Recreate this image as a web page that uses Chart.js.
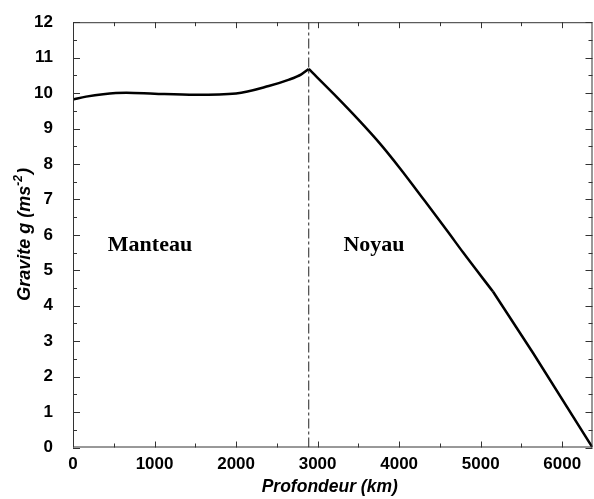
<!DOCTYPE html>
<html lang="fr">
<head>
  <meta charset="UTF-8" />
  <title>Gravité en fonction de la profondeur</title>
  <script src="https://cdn.jsdelivr.net/npm/chart.js"></script>
  <style>
    html, body { margin: 0; padding: 0; background: #fff; }
    #wrap { width: 594px; height: 499px; }
  </style>
</head>
<body>
  <div id="wrap"><canvas id="gravChart" width="594" height="499"></canvas></div>

  <script>
    // profondeur (km) et gravité (m/s²), par enveloppe
    const mantleDepth = [0, 160, 370, 655, 1000, 1500, 2000, 2400, 2650, 2800, 2891];
    const mantleG     = [9.82, 9.90, 9.97, 10.01, 9.98, 9.95, 9.99, 10.20, 10.38, 10.53, 10.68];
    const outerDepth  = [2891, 3200, 3500, 3770, 4009, 4313, 4600, 4785, 5150];
    const outerG      = [10.68, 9.97, 9.25, 8.56, 7.88, 6.96, 6.08, 5.50, 4.40];
    const innerDepth  = [5150, 5644, 6371];
    const innerG      = [4.40, 2.66, 0];

    const cmbDepth = 2891;      // limite manteau / noyau
    const xTicks = [0, 1000, 2000, 3000, 4000, 5000, 6000];
    const yTicks = [0, 1, 2, 3, 4, 5, 6, 7, 8, 9, 10, 11, 12];
    const regions = ['Manteau', 'Noyau'];

    const pts = (xs, ys) => xs.map((d, i) => ({ x: d, y: ys[i] }));

    // cadre, graduations internes, titres et étiquettes
    const decor = {
      id: 'decor',
      afterDraw(chart) {
        const { ctx, chartArea: a, scales: { x, y } } = chart;
        ctx.save();
        ctx.strokeStyle = '#333';
        ctx.lineWidth = 1;
        ctx.strokeRect(a.left + 0.5, a.top + 0.5, a.right - a.left - 1, a.bottom - a.top - 1);

        ctx.beginPath();
        for (let v = 0; v <= 6371; v += 500) {
          const px = Math.round(x.getPixelForValue(v)) + 0.5;
          const len = v % 1000 === 0 ? 6 : 4;
          ctx.moveTo(px, a.bottom); ctx.lineTo(px, a.bottom - len);
          ctx.moveTo(px, a.top); ctx.lineTo(px, a.top + len);
        }
        for (let v = 0; v <= 12; v += 0.5) {
          const py = Math.round(y.getPixelForValue(v)) + 0.5;
          const len = Number.isInteger(v) ? 7 : 4;
          ctx.moveTo(a.left, py); ctx.lineTo(a.left + len, py);
          ctx.moveTo(a.right, py); ctx.lineTo(a.right - len, py);
        }
        ctx.stroke();

        ctx.fillStyle = '#000';
        // titre axe x
        ctx.font = 'italic bold 17.5px "Liberation Sans", Arial, sans-serif';
        ctx.textAlign = 'center';
        ctx.textBaseline = 'middle';
        ctx.fillText('Profondeur (km)', (a.left + a.right) / 2 - 3, 487);

        // titre axe y avec exposant
        ctx.save();
        ctx.translate(24, (a.top + a.bottom) / 2);
        ctx.rotate(-Math.PI / 2);
        const main = 'Gravite g (ms';
        const big = 'italic bold 18px "Liberation Sans", Arial, sans-serif';
        const small = 'italic bold 12px "Liberation Sans", Arial, sans-serif';
        ctx.font = big;
        const w1 = ctx.measureText(main).width;
        const w3 = ctx.measureText(')').width;
        ctx.font = small;
        const w2 = ctx.measureText('-2').width;
        const sx = -(w1 + w2 + w3) / 2;
        ctx.textAlign = 'left';
        ctx.textBaseline = 'alphabetic';
        ctx.font = big;
        ctx.fillText(main, sx, 6);
        ctx.font = small;
        ctx.fillText('-2', sx + w1, -2);
        ctx.font = big;
        ctx.fillText(')', sx + w1 + w2 + 1, 6);
        ctx.restore();

        // étiquettes des régions
        ctx.font = 'bold 22px "Liberation Serif", "Times New Roman", serif';
        ctx.textAlign = 'center';
        ctx.textBaseline = 'alphabetic';
        ctx.fillText(regions[0], x.getPixelForValue(944), y.getPixelForValue(5.54));
        ctx.fillText(regions[1], x.getPixelForValue(3691), y.getPixelForValue(5.54));
        ctx.restore();
      }
    };

    const tickFont = { family: '"Liberation Sans", Arial, sans-serif', size: 17, weight: 'bold' };
    const lineStyle = { borderColor: '#000', borderWidth: 2.5, pointRadius: 0, fill: false };

    new Chart(document.getElementById('gravChart'), {
      type: 'line',
      data: {
        datasets: [
          { ...lineStyle, data: pts(mantleDepth, mantleG), cubicInterpolationMode: 'monotone' },
          { ...lineStyle, data: pts(outerDepth, outerG), cubicInterpolationMode: 'monotone' },
          { ...lineStyle, data: pts(innerDepth, innerG), tension: 0 },
          {
            data: [{ x: cmbDepth, y: 0 }, { x: cmbDepth, y: 12 }],
            borderColor: '#222',
            borderWidth: 1,
            borderDash: [10, 3, 3, 3],
            pointRadius: 0,
            fill: false
          }
        ]
      },
      options: {
        responsive: false,
        animation: false,
        layout: { padding: { top: 15, right: 1.5, left: 0, bottom: 0 } },
        plugins: { legend: { display: false }, tooltip: { enabled: false } },
        scales: {
          x: {
            type: 'linear',
            min: 0,
            max: 6371,
            afterBuildTicks: s => { s.ticks = xTicks.map(v => ({ value: v })); },
            afterFit: s => { s.height = 51.5; },
            grid: { display: false },
            border: { display: false },
            ticks: { color: '#000', font: tickFont, padding: -1, maxRotation: 0, callback: v => String(v) }
          },
          y: {
            min: 0,
            max: 12,
            afterBuildTicks: s => { s.ticks = yTicks.map(v => ({ value: v })); },
            afterFit: s => { s.width = 73; },
            grid: { display: false },
            border: { display: false },
            ticks: { color: '#000', font: tickFont, padding: 12, callback: v => String(v) }
          }
        }
      },
      plugins: [decor]
    });
  </script>
</body>
</html>
